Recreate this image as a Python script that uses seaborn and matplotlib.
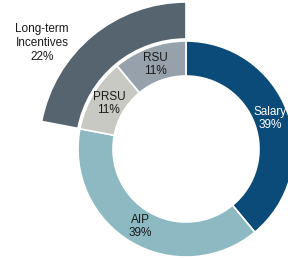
import matplotlib
matplotlib.use("Agg")
import matplotlib.pyplot as plt
import seaborn as sns

# Data
categories = ["Salary", "AIP", "PRSU", "RSU"]
values = [39, 39, 11, 11]
outer_label = "Long-term\nIncentives"
outer_value = 22

colors = ["#0B4B79", "#8CB9C2", "#C9C9C3", "#96A1AB"]
outer_color = "#56646F"
text_colors = ["white", "#1a1a1a", "#1a1a1a", "#1a1a1a"]

sns.set_theme(style="white")
plt.rcParams['font.family'] = ['Liberation Sans', 'DejaVu Sans']

fig = plt.figure(figsize=(2.88, 2.58), dpi=100)
ax = fig.add_axes([0, 0, 1, 1])

cx, cy = 186, 109
r_out, width = 108, 35

labels = [f"{c}\n{v}%" for c, v in zip(categories, values)]
wedges, texts = ax.pie(values, labels=labels, colors=colors, startangle=90,
                       counterclock=False, radius=r_out, center=(cx, cy),
                       labeldistance=0.83, frame=True,
                       wedgeprops=dict(width=width, edgecolor="white", linewidth=1.2),
                       textprops=dict(fontsize=8.5, ha="center", va="center",
                                      linespacing=1.1))
for t, tc in zip(texts, text_colors):
    t.set_color(tc)
    t.set_ha("center")

# Outer ring segment for long-term incentives (PRSU + RSU)
ax.pie([sum(values) - outer_value, outer_value], colors=["none", outer_color],
       startangle=90, counterclock=False, radius=147, center=(cx, cy), frame=True,
       wedgeprops=dict(width=37, edgecolor="white", linewidth=1.2))
ax.set_xlim(0, 288)
ax.set_ylim(0, 258)
ax.set_aspect('equal')
ax.axis('off')

ax.text(42, 215, f"{outer_label}\n{outer_value}%", ha="center", va="center",
        fontsize=8.5, color="#1a1a1a", linespacing=1.25)

fig.savefig("out.png", dpi=100)
